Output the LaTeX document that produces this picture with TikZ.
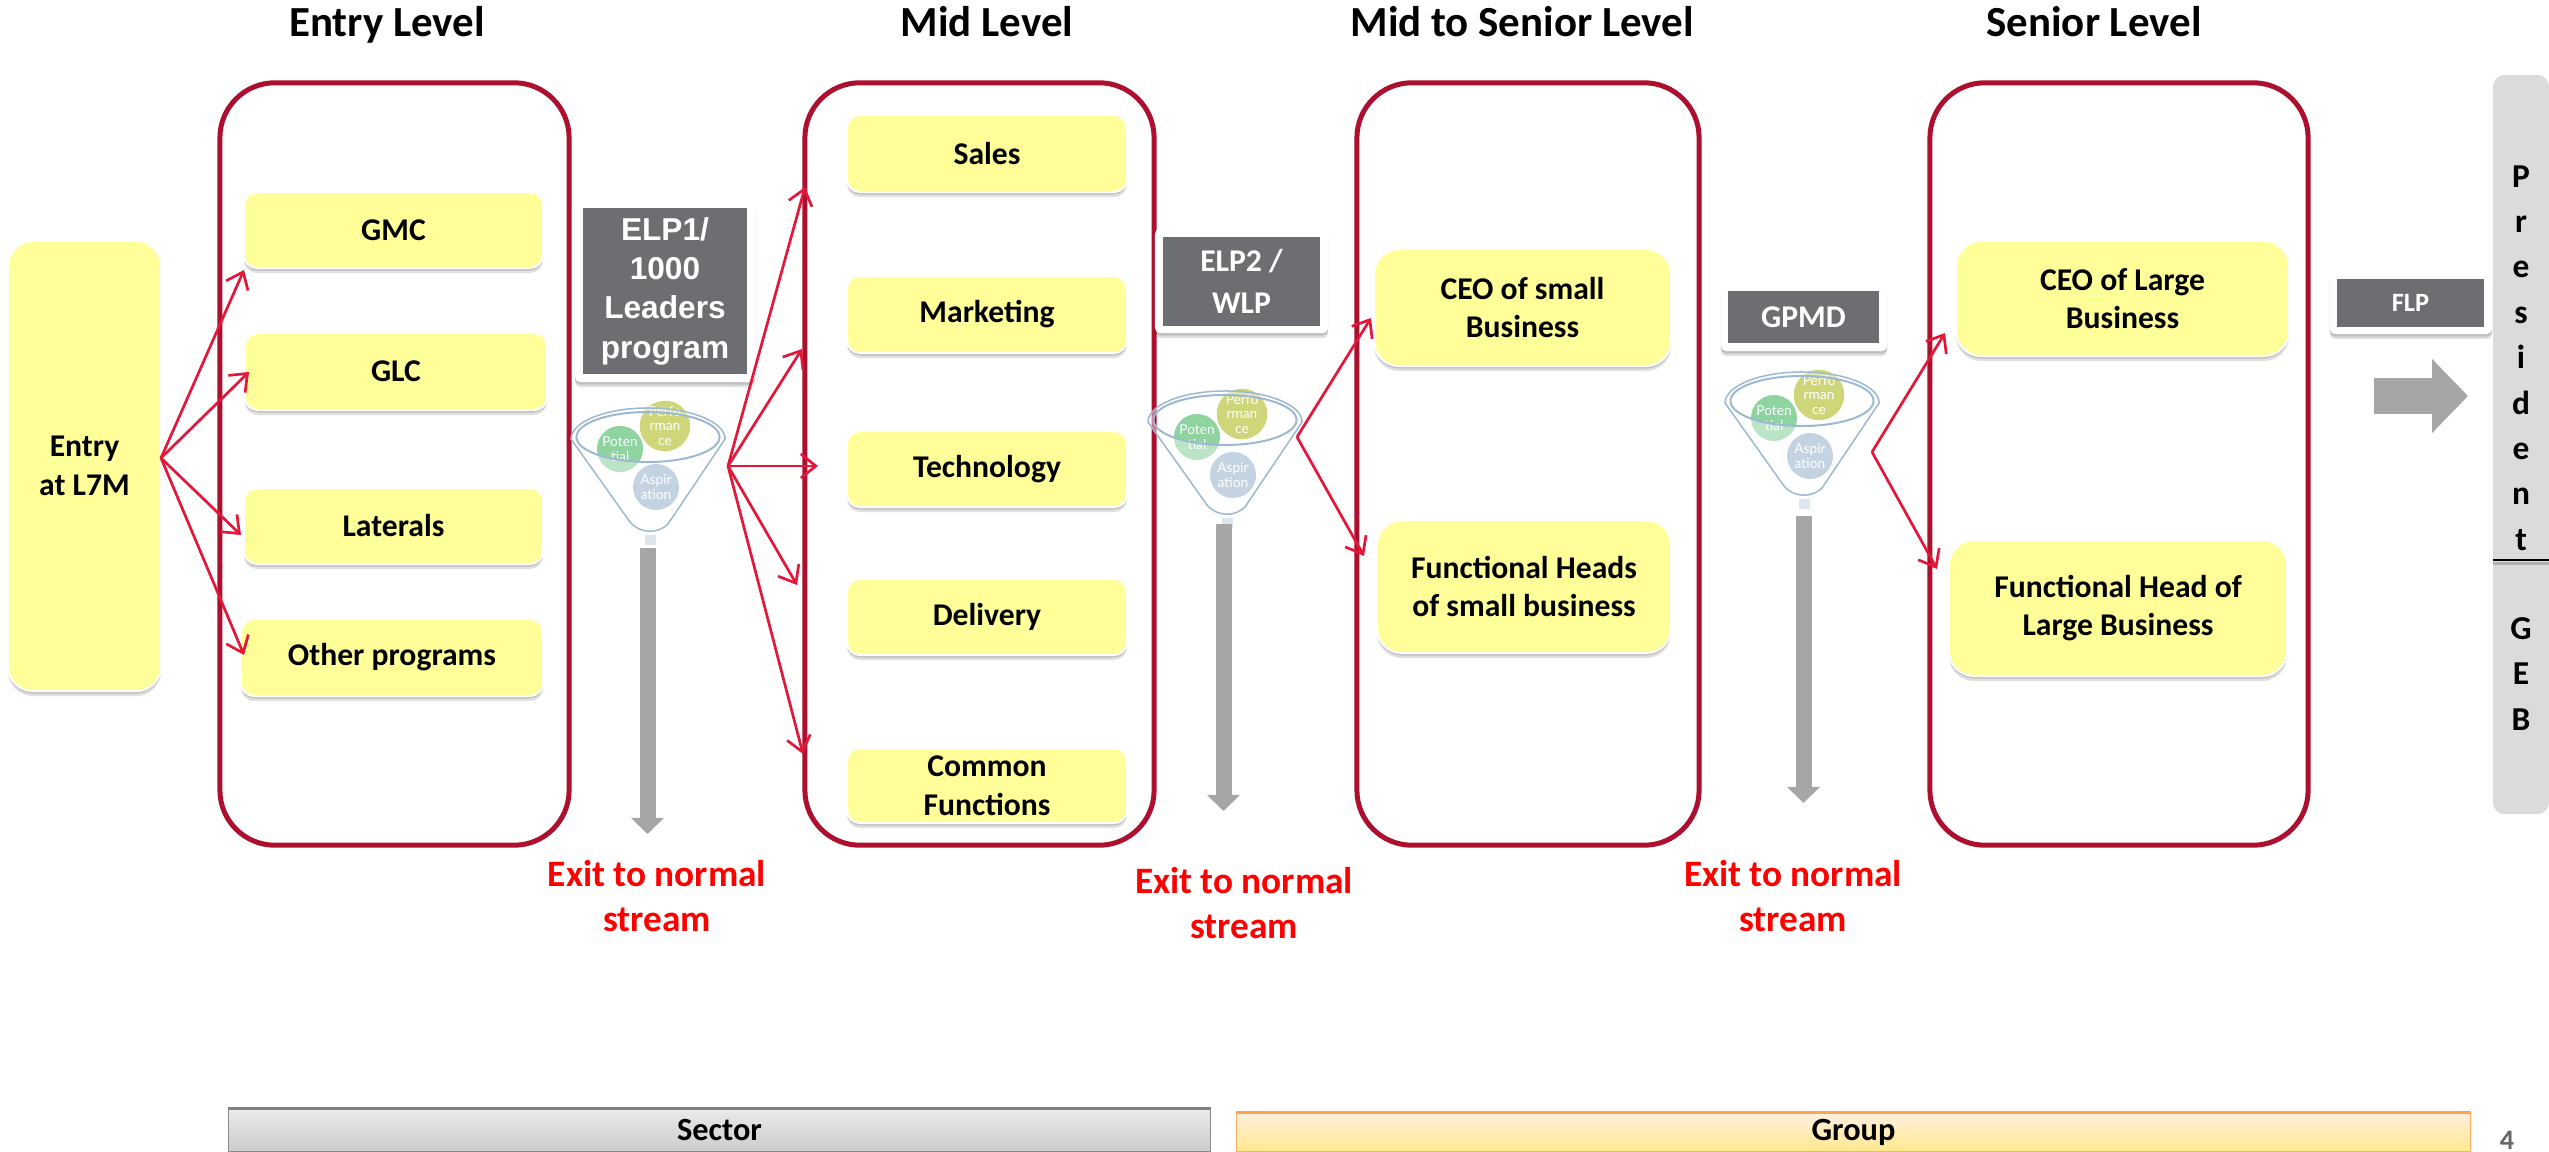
\documentclass[tikz,border=0pt]{standalone}
\usepackage{fontspec}
\setmainfont{Carlito}
\newfontfamily\arialfont{Liberation Sans}
\newfontfamily\gillfont{Lato}
\usetikzlibrary{arrows.meta,shadows}
\definecolor{framered}{HTML}{AD0F2E}
\definecolor{linkred}{HTML}{E3173A}
\definecolor{boxyellow}{HTML}{FFFF99}
\definecolor{cardgray}{HTML}{6D6E71}
\definecolor{bargray}{HTML}{A6A6A6}
\definecolor{funnelblue}{HTML}{9DB8D2}
\definecolor{stubblue}{HTML}{DDE5EE}
\definecolor{pfgreen}{HTML}{8ED3A0}
\definecolor{pfolive}{HTML}{CFD67A}
\definecolor{pfblue}{HTML}{C3D3E1}
\tikzset{
  softshadow/.style={drop shadow={shadow xshift=0cm,shadow yshift=-.05cm,opacity=.12,fill=black},
    drop shadow={shadow xshift=0cm,shadow yshift=-.025cm,opacity=.15,fill=black}},
  levelframe/.style={draw=framered,line width=.05cm,rounded corners=.55cm,inner sep=0pt},
  roleBox/.style={fill=boxyellow,draw=white,line width=.02cm,rounded corners=.13cm,softshadow,
    inner sep=0pt,align=center,font=\fontsize{9}{11}\selectfont\bfseries},
  cardBack/.style={fill=white,rounded corners=.05cm,softshadow,inner sep=0pt},
  cardFace/.style={fill=cardgray,text=white,inner sep=0pt,align=center,font=\fontsize{9}{11.8}\selectfont\bfseries},
  levelTitle/.style={anchor=base,font=\fontsize{12.2}{14}\selectfont\bfseries},
  exitText/.style={text=red,align=center,font=\fontsize{10.6}{12.8}\selectfont\bfseries},
  linkArrow/.style={draw=linkred,line width=.027cm,-{Straight Barb[length=.15cm,width=.24cm]}},
  exitBar/.style={draw=bargray,line width=.16cm,-{Triangle[length=.16cm,width=.32cm]}},
  talent/.style={circle,minimum size=.46cm,inner sep=0pt,text=white,align=center,
    font=\gillfont\fontsize{3.9}{4.1}\selectfont},
}
% funnel: name, centre x, centre y, shift of the circles
\newcommand{\funnel}[4]{%
  \begin{scope}[shift={(#2,#3)}]
    \node[talent,fill=pfgreen] (#1pot) at (-28,17+#4) {Poten\\tial};
    \node[talent,fill=pfolive] (#1perf) at (17,-6+#4) {Perfo\\rman\\ce};
    \fill[white,opacity=.4,even odd rule] (-77,2) arc [start angle=180,end angle=0,x radius=.77cm,y radius=.31cm]
      -- (20,87) .. controls (10,97) and (-8,97) .. (-18,85) -- cycle
      (0,0) ellipse [x radius=.715cm,y radius=.25cm];
    \node[talent,fill=pfblue] (#1asp) at (8,55+#4) {Aspir\\ation};
    \draw[funnelblue,line width=.015cm] (-77,2) arc [start angle=180,end angle=0,x radius=.77cm,y radius=.31cm]
      -- (20,87) .. controls (10,97) and (-8,97) .. (-18,85) -- cycle;
    \draw[funnelblue,line width=.02cm] (0,0) ellipse [x radius=.715cm,y radius=.25cm];
    \fill[stubblue] (-3,98) rectangle (8,108);
  \end{scope}}
\begin{document}
\begin{tikzpicture}[x=.01cm,y=-.01cm]
\useasboundingbox (0,0) rectangle (2549,1152);
% Level titles
\node[levelTitle] (titleEntry) at (387,37) {Entry Level};
\node[levelTitle] (titleMid) at (987,37) {Mid Level};
\node[levelTitle] (titleMidSenior) at (1522,37) {Mid to Senior Level};
\node[levelTitle] (titleSenior) at (2094,37) {Senior Level};
% Frames
\node[levelframe,minimum width=3.49cm,minimum height=7.62cm] (frameEntry) at (394.5,464) {};
\node[levelframe,minimum width=3.49cm,minimum height=7.62cm] (frameMid) at (979.5,464) {};
\node[levelframe,minimum width=3.42cm,minimum height=7.62cm] (frameMidSenior) at (1528,464) {};
\node[levelframe,minimum width=3.78cm,minimum height=7.62cm] (frameSenior) at (2119,464) {};
% Entry
\node[roleBox,rounded corners=.25cm,minimum width=1.53cm,minimum height=4.5cm] (entry) at (84.5,466) {\raisebox{-.15cm}{Entry}\\\raisebox{-.15cm}{at L7M}};
\node[roleBox,minimum width=2.99cm,minimum height=.76cm] (gmc) at (393.5,230) {GMC};
\node[roleBox,minimum width=3.02cm,minimum height=.77cm] (glc) at (396,371.5) {GLC};
\node[roleBox,minimum width=2.99cm,minimum height=.76cm] (laterals) at (393.5,526) {Laterals};
\node[roleBox,minimum width=3.02cm,minimum height=.77cm] (other) at (392,657.5) {\raisebox{-.02cm}{Other programs}};
% Mid
\node[roleBox,minimum width=2.8cm,minimum height=.77cm] (sales) at (987,153.5) {Sales};
\node[roleBox,minimum width=2.8cm,minimum height=.77cm] (marketing) at (987,314.5) {\raisebox{-.03cm}{Marketing}};
\node[roleBox,minimum width=2.8cm,minimum height=.76cm] (technology) at (987,469) {\raisebox{-.02cm}{Technology}};
\node[roleBox,minimum width=2.8cm,minimum height=.76cm] (delivery) at (987,617) {\raisebox{-.02cm}{Delivery}};
\node[roleBox,minimum width=2.8cm,minimum height=.75cm] (common) at (987,785.5) {Common\\Functions};
% Mid to senior
\node[roleBox,rounded corners=.25cm,minimum width=2.97cm,minimum height=1.17cm] (ceoSmall) at (1522.5,307.5) {CEO of small\\Business};
\node[roleBox,rounded corners=.25cm,minimum width=2.94cm,minimum height=1.33cm] (headSmall) at (1524,586.5) {Functional Heads\\of small business};
% Senior
\node[roleBox,rounded corners=.25cm,minimum width=3.33cm,minimum height=1.15cm] (ceoLarge) at (2122.5,298.5) {CEO of Large\\Business};
\node[roleBox,rounded corners=.25cm,minimum width=3.38cm,minimum height=1.36cm] (headLarge) at (2118,608) {Functional Head of\\Large Business};
% President
\node[fill=black!14,rounded corners=.12cm,minimum width=.56cm,minimum height=7.39cm,inner sep=0pt] (president) at (2521,444.5) {};
\node[inner sep=0pt,align=center,font=\fontsize{9.5}{12.9}\selectfont\bfseries] (presidentText) at (2521,358) {P\\r\\e\\s\\i\\d\\e\\n\\t};
\node[inner sep=0pt,align=center,font=\fontsize{9.5}{12.9}\selectfont\bfseries] (gebText) at (2521,674) {G\\E\\B};
\coordinate (splitL) at (2493,560);
\coordinate (splitR) at (2549,560);
\draw[black!60!white,line width=.03cm,opacity=.35] ([yshift=-.03cm]splitL) -- ([yshift=-.03cm]splitR);
\draw[black,line width=.012cm] (splitL) -- (splitR);
% Program cards
\node[cardBack,minimum width=1.8cm,minimum height=1.82cm] (elpBackA) at (665,291) {};
\node[cardFace,minimum width=1.64cm,minimum height=1.66cm,font=\arialfont\fontsize{9}{11.2}\selectfont\bfseries] (elpA) at (665,291) {ELP1/\\1000\\Leaders\\program};
\node[cardBack,minimum width=1.73cm,minimum height=1.04cm] (elpBackB) at (1241.5,281) {};
\node[cardFace,minimum width=1.57cm,minimum height=.89cm] (elpB) at (1241.5,281.5) {ELP2 /\\WLP};
\node[cardBack,minimum width=1.66cm,minimum height=.67cm] (gpmdBack) at (1804,317.5) {};
\node[cardFace,minimum width=1.51cm,minimum height=.52cm] (gpmd) at (1803.5,317) {GPMD};
\node[cardBack,minimum width=1.62cm,minimum height=.62cm] (flpBack) at (2411,303) {};
\node[cardFace,minimum width=1.47cm,minimum height=.48cm,font=\fontsize{7.5}{9}\selectfont\bfseries] (flp) at (2410.5,303) {FLP};
% Funnels
\funnel{fa}{648}{437}{-5}
\funnel{fb}{1225}{420}{0}
\funnel{fc}{1802}{401}{0}
% Exit bars
\coordinate (barTopA) at (647.5,548);
\coordinate (barEndA) at (647.5,834);
\coordinate (barTopB) at (1223.5,524);
\coordinate (barEndB) at (1223.5,811);
\coordinate (barTopC) at (1803.5,516);
\coordinate (barEndC) at (1803.5,803);
\draw[exitBar] (barTopA) -- (barEndA);
\draw[exitBar] (barTopB) -- (barEndB);
\draw[exitBar] (barTopC) -- (barEndC);
\coordinate (bigStart) at (2374,396);
\coordinate (bigEnd) at (2468,396);
\draw[draw=bargray,line width=.36cm,-{Triangle[length=.36cm,width=.72cm]}] (bigStart) -- (bigEnd);
% Exit texts
\node[exitText] (exitA) at (657,896) {Exit to normal\\stream};
\node[exitText] (exitB) at (1244,903) {Exit to normal\\stream};
\node[exitText] (exitC) at (1793,896) {Exit to normal\\stream};
% Hubs and arrow ends
\coordinate (hubEntry) at (161,458);
\coordinate (toGmc) at (244,270);
\coordinate (toGlc) at (249,372);
\coordinate (toLaterals) at (241,535);
\coordinate (toOther) at (244,655);
\coordinate (hubA) at (728,466);
\coordinate (toSales) at (805,187);
\coordinate (toMarketing) at (802,349);
\coordinate (toTechnology) at (818,466);
\coordinate (toDelivery) at (797,585);
\coordinate (toCommon) at (803,754);
\coordinate (hubB) at (1297,437);
\coordinate (toCeoSmall) at (1371,318);
\coordinate (toHeadSmall) at (1364,556);
\coordinate (hubC) at (1872,452);
\coordinate (toCeoLarge) at (1945,333);
\coordinate (toHeadLarge) at (1937,569);
% Red arrows
\draw[linkArrow] (hubEntry) -- (toGmc);
\draw[linkArrow] (hubEntry) -- (toGlc);
\draw[linkArrow] (hubEntry) -- (toLaterals);
\draw[linkArrow] (hubEntry) -- (toOther);
\draw[linkArrow] (hubA) -- (toSales);
\draw[linkArrow] (hubA) -- (toMarketing);
\draw[linkArrow] (hubA) -- (toTechnology);
\draw[linkArrow] (hubA) -- (toDelivery);
\draw[linkArrow] (hubA) -- (toCommon);
\draw[linkArrow] (hubB) -- (toCeoSmall);
\draw[linkArrow] (hubB) -- (toHeadSmall);
\draw[linkArrow] (hubC) -- (toCeoLarge);
\draw[linkArrow] (hubC) -- (toHeadLarge);
% Bottom bars
\node[draw=black!45,line width=.01cm,top color=black!8,bottom color=black!20,minimum width=9.81cm,minimum height=.42cm,inner sep=0pt,font=\fontsize{9.2}{11}\selectfont\bfseries] (sector) at (719.5,1130) {\raisebox{-.03cm}{Sector}};
\draw[black!50,line width=.025cm] (sector.north west) -- (sector.north east);
\node[draw=orange!60,line width=.01cm,top color=orange!12!white,bottom color=orange!40!yellow!45!white,minimum width=12.33cm,minimum height=.38cm,inner sep=0pt,font=\fontsize{9.2}{11}\selectfont\bfseries] (group) at (1853.5,1132) {\raisebox{-.01cm}{Group}};
\draw[orange!70,line width=.025cm] (group.north west) -- (group.north east);
\node[text=black!60,inner sep=0pt,font=\fontsize{8}{10}\selectfont\bfseries] (pageNo) at (2507,1140) {4};
\end{tikzpicture}
\end{document}
